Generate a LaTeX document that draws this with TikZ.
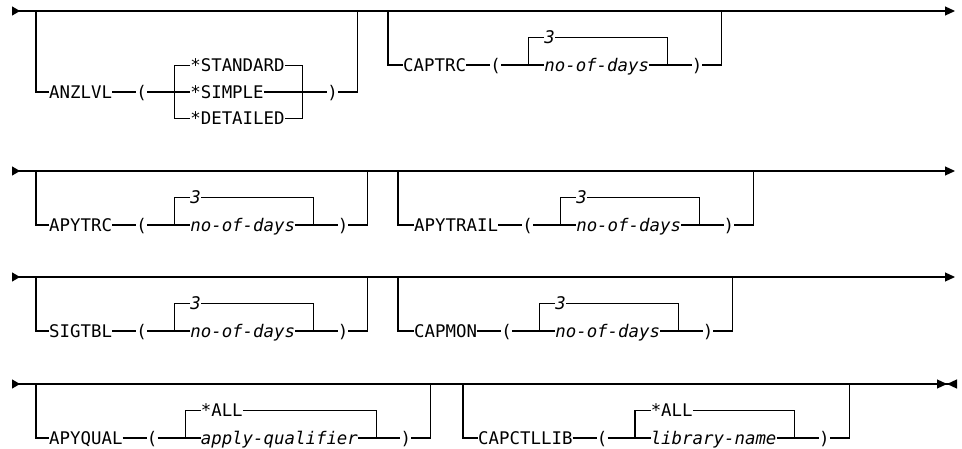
\documentclass[tikz,border=0pt]{standalone}
\usepackage{fontspec}
\newfontfamily\railfont{DejaVu Sans Mono}
\usetikzlibrary{arrows.meta, positioning}

\begin{document}
\begin{tikzpicture}[x=1pt, y=-1pt,
    railword/.style={inner sep=0pt, text height=12.7pt, text depth=0pt, anchor=west, font=\railfont\fontsize{17.4}{20}\selectfont},
    railvar/.style={railword, font=\railfont\itshape\fontsize{17.4}{20}\selectfont},
    rail/.style={line width=1.2pt},
    track/.style={rail, {Triangle[reversed, length=8pt, width=9pt]}-{Triangle[length=10pt, width=9pt]}}
]
    \useasboundingbox (0,0) rectangle (962,449);

    \coordinate (s1) at (12,11);
    \coordinate (e1) at (955,11);
    \draw[track] (s1) -- (e1);

    \coordinate (anzin) at (36,11);
    \node[railword] (anzlvl) at (49,92) {ANZLVL};
    \node[railword, right=24pt of anzlvl] (anzlp) {(};
    \node[railword, right=43pt of anzlp] (simple) {*SIMPLE};
    \node[railword, above=13.5pt of simple.north west, anchor=south west] (standard) {*STANDARD};
    \node[railword, below=13.5pt of simple.south west, anchor=north west] (detailed) {*DETAILED};
    \node[railword, right=63.2pt of simple] (anzrp) {)};
    \coordinate[left=15.5pt of simple] (anzlb);
    \coordinate[right=39pt of simple] (anzrb);
    \coordinate[right=19.3pt of anzrp] (anzout);
    \draw[rail] (anzin) |- (anzlvl);
    \draw[rail] (anzlvl) -- (anzlp);
    \draw[rail] (anzlp) -- (simple);
    \draw[rail] (standard) -| (anzlb) |- (detailed);
    \draw[rail] (standard) -| (anzrb) |- (detailed);
    \draw[rail] (simple) -- (anzrp);
    \draw[rail] (anzrp) -| (anzout |- s1);

    \coordinate (capin) at (388,11);
    \node[railword] (captrc) at (403,65) {CAPTRC};
    \node[railword, right=24pt of captrc] (caplp) {(};
    \node[railvar, right=43pt of caplp] (capdays) {no-of-days};
    \node[railvar, above=14.3pt of capdays.north west, anchor=south west] (capdef) {3};
    \node[railword, right=42.3pt of capdays] (caprp) {)};
    \coordinate[left=15.5pt of capdays] (caplb);
    \coordinate[right=18pt of capdays] (caprb);
    \coordinate[right=19.3pt of caprp] (capout);
    \draw[rail] (capin) |- (captrc);
    \draw[rail] (captrc) -- (caplp);
    \draw[rail] (caplp) -- (capdays);
    \draw[rail] (capdef) -| (caplb);
    \draw[rail] (capdef) -| (caprb);
    \draw[rail] (capdays) -- (caprp);
    \draw[rail] (caprp) -| (capout |- s1);

    \coordinate (s2) at (12,171);
    \coordinate (e2) at (955,171);
    \draw[track] (s2) -- (e2);

    \coordinate (apyin) at (36,171);
    \node[railword] (apytrc) at (49,225) {APYTRC};
    \node[railword, right=24pt of apytrc] (apylp) {(};
    \node[railvar, right=43pt of apylp] (apydays) {no-of-days};
    \node[railvar, above=14.3pt of apydays.north west, anchor=south west] (apydef) {3};
    \node[railword, right=42.3pt of apydays] (apyrp) {)};
    \coordinate[left=15.5pt of apydays] (apylb);
    \coordinate[right=18pt of apydays] (apyrb);
    \coordinate[right=19.3pt of apyrp] (apyout);
    \draw[rail] (apyin) |- (apytrc);
    \draw[rail] (apytrc) -- (apylp);
    \draw[rail] (apylp) -- (apydays);
    \draw[rail] (apydef) -| (apylb);
    \draw[rail] (apydef) -| (apyrb);
    \draw[rail] (apydays) -- (apyrp);
    \draw[rail] (apyrp) -| (apyout |- s2);

    \coordinate (trailin) at (398,171);
    \node[railword] (apytrail) at (414,225) {APYTRAIL};
    \node[railword, right=24pt of apytrail] (traillp) {(};
    \node[railvar, right=43pt of traillp] (traildays) {no-of-days};
    \node[railvar, above=14.3pt of traildays.north west, anchor=south west] (traildef) {3};
    \node[railword, right=42.3pt of traildays] (trailrp) {)};
    \coordinate[left=15.5pt of traildays] (traillb);
    \coordinate[right=18pt of traildays] (trailrb);
    \coordinate[right=19.3pt of trailrp] (trailout);
    \draw[rail] (trailin) |- (apytrail);
    \draw[rail] (apytrail) -- (traillp);
    \draw[rail] (traillp) -- (traildays);
    \draw[rail] (traildef) -| (traillb);
    \draw[rail] (traildef) -| (trailrb);
    \draw[rail] (traildays) -- (trailrp);
    \draw[rail] (trailrp) -| (trailout |- s2);

    \coordinate (s3) at (12,277);
    \coordinate (e3) at (955,277);
    \draw[track] (s3) -- (e3);

    \coordinate (sigin) at (36,277);
    \node[railword] (sigtbl) at (49,331) {SIGTBL};
    \node[railword, right=24pt of sigtbl] (siglp) {(};
    \node[railvar, right=43pt of siglp] (sigdays) {no-of-days};
    \node[railvar, above=14.3pt of sigdays.north west, anchor=south west] (sigdef) {3};
    \node[railword, right=42.3pt of sigdays] (sigrp) {)};
    \coordinate[left=15.5pt of sigdays] (siglb);
    \coordinate[right=18pt of sigdays] (sigrb);
    \coordinate[right=19.3pt of sigrp] (sigout);
    \draw[rail] (sigin) |- (sigtbl);
    \draw[rail] (sigtbl) -- (siglp);
    \draw[rail] (siglp) -- (sigdays);
    \draw[rail] (sigdef) -| (siglb);
    \draw[rail] (sigdef) -| (sigrb);
    \draw[rail] (sigdays) -- (sigrp);
    \draw[rail] (sigrp) -| (sigout |- s3);

    \coordinate (monin) at (398,277);
    \node[railword] (capmon) at (414,331) {CAPMON};
    \node[railword, right=24pt of capmon] (monlp) {(};
    \node[railvar, right=43pt of monlp] (mondays) {no-of-days};
    \node[railvar, above=14.3pt of mondays.north west, anchor=south west] (mondef) {3};
    \node[railword, right=42.3pt of mondays] (monrp) {)};
    \coordinate[left=15.5pt of mondays] (monlb);
    \coordinate[right=18pt of mondays] (monrb);
    \coordinate[right=19.3pt of monrp] (monout);
    \draw[rail] (monin) |- (capmon);
    \draw[rail] (capmon) -- (monlp);
    \draw[rail] (monlp) -- (mondays);
    \draw[rail] (mondef) -| (monlb);
    \draw[rail] (mondef) -| (monrb);
    \draw[rail] (mondays) -- (monrp);
    \draw[rail] (monrp) -| (monout |- s3);

    \coordinate (s4) at (12,384);
    \coordinate (e4) at (957,384);
    \draw[rail, {Triangle[reversed, length=8pt, width=9pt]}-{Triangle[length=10pt, width=9pt] Triangle[reversed, length=10pt, width=9pt]}] (s4) -- (e4);

    \coordinate (qualin) at (36,384);
    \node[railword] (apyqual) at (49,438) {APYQUAL};
    \node[railword, right=24pt of apyqual] (quallp) {(};
    \node[railvar, right=43pt of quallp] (qualname) {apply-qualifier};
    \node[railword, above=14.3pt of qualname.north west, anchor=south west] (qualdef) {*ALL};
    \node[railword, right=42.3pt of qualname] (qualrp) {)};
    \coordinate[left=15.5pt of qualname] (quallb);
    \coordinate[right=18pt of qualname] (qualrb);
    \coordinate[right=19.3pt of qualrp] (qualout);
    \draw[rail] (qualin) |- (apyqual);
    \draw[rail] (apyqual) -- (quallp);
    \draw[rail] (quallp) -- (qualname);
    \draw[rail] (qualdef) -| (quallb);
    \draw[rail] (qualdef) -| (qualrb);
    \draw[rail] (qualname) -- (qualrp);
    \draw[rail] (qualrp) -| (qualout |- s4);

    \coordinate (libin) at (463,384);
    \node[railword] (capctllib) at (478,438) {CAPCTLLIB};
    \node[railword, right=24pt of capctllib] (liblp) {(};
    \node[railvar, right=43pt of liblp] (libname) {library-name};
    \node[railword, above=14.3pt of libname.north west, anchor=south west] (libdef) {*ALL};
    \node[railword, right=42.3pt of libname] (librp) {)};
    \coordinate[left=15.5pt of libname] (liblb);
    \coordinate[right=18pt of libname] (librb);
    \coordinate[right=19.3pt of librp] (libout);
    \coordinate (libbar) at (872,384);
    \draw[rail] (libin) |- (capctllib);
    \draw[rail] (capctllib) -- (liblp);
    \draw[rail] (liblp) -- (libname);
    \draw[rail] (libdef) -| (liblb);
    \draw[rail] (libdef) -| (librb);
    \draw[rail] (libname) -- (librp);
    \draw[rail] (librp) -| (libout |- s4);
    \draw[line width=2.4pt] (libout |- s4) -- (libbar);
\end{tikzpicture}
\end{document}
